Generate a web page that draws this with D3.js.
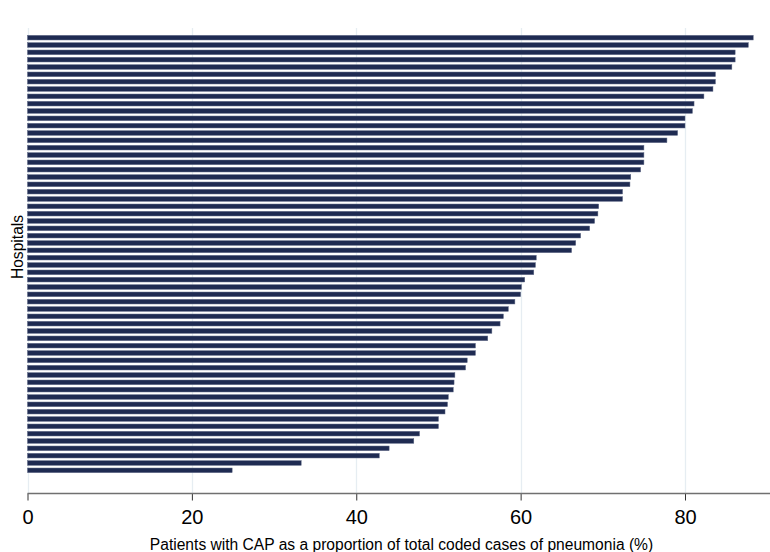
<!DOCTYPE html>
<html>
<head>
<meta charset="utf-8">
<script src="https://cdn.jsdelivr.net/npm/d3@7"></script>
<style>
  html, body { margin: 0; padding: 0; background: #ffffff; }
  svg { display: block; }
</style>
</head>
<body>
<svg id="chart" width="770" height="552"></svg>
<script>
// Share of coded pneumonia cases that were CAP, one bar per hospital (sorted high to low)
const hospitals = d3.range(1, 61).map(i => "H" + i);
const capShare = [
  88.3, 87.7, 86.1, 86.1, 85.7, 83.7, 83.7, 83.4, 82.3, 81.1,
  80.9, 80.0, 80.0, 79.1, 77.8, 75.0, 75.0, 75.0, 74.6, 73.4,
  73.3, 72.4, 72.4, 69.5, 69.4, 69.0, 68.4, 67.3, 66.7, 66.2,
  61.9, 61.8, 61.6, 60.5, 60.1, 60.0, 59.3, 58.5, 57.9, 57.5,
  56.5, 56.0, 54.5, 54.5, 53.5, 53.3, 52.0, 51.9, 51.8, 51.2,
  51.1, 50.8, 50.0, 50.0, 47.7, 47.0, 44.0, 42.8, 33.3, 24.9
];
const xTicks = [0, 20, 40, 60, 80];
const xTitle = "Patients with CAP as a proportion of total coded cases of pneumonia (%)";
const yTitle = "Hospitals";

const svg = d3.select("#chart");
const plotLeft = 27.5, plotRight = 770, plotTop = 28, axisY = 493.5;

const x = d3.scaleLinear().domain([0, 80]).range([plotLeft, 685]);
const y = d3.scaleBand()
  .domain(hospitals)
  .range([34, 474])
  .paddingInner(0.37)
  .paddingOuter(0.185);

// vertical gridlines
svg.append("g")
  .selectAll("line")
  .data(xTicks)
  .join("line")
  .attr("x1", d => Math.round(x(d)) + 0.5)
  .attr("x2", d => Math.round(x(d)) + 0.5)
  .attr("y1", plotTop)
  .attr("y2", axisY)
  .attr("stroke", "#e6edf2")
  .attr("stroke-width", 1.3);

// bars
svg.append("g")
  .selectAll("rect")
  .data(capShare)
  .join("rect")
  .attr("x", x(0))
  .attr("y", (d, i) => y(hospitals[i]))
  .attr("width", d => x(d) - x(0))
  .attr("height", y.bandwidth())
  .attr("fill", "#1f2b52")
  .attr("stroke", "#5d6784")
  .attr("stroke-width", 0.5);

// x axis
const xAxis = svg.append("g")
  .attr("transform", `translate(0,${axisY})`)
  .call(d3.axisBottom(x).tickValues(xTicks).tickSize(7).tickPadding(9).tickFormat(d3.format("d")));
xAxis.select(".domain").remove();
xAxis.append("line")
  .attr("x1", plotLeft).attr("x2", plotRight)
  .attr("y1", 0).attr("y2", 0)
  .attr("stroke", "#707070").attr("stroke-width", 1.5);
xAxis.selectAll(".tick line").attr("stroke", "#333").attr("stroke-width", 1);
xAxis.selectAll(".tick text")
  .attr("fill", "#000")
  .style("font-family", "'Liberation Sans', Arial, sans-serif")
  .style("font-size", "20px");

// axis titles
svg.append("text")
  .attr("x", 401.5)
  .attr("y", 550)
  .attr("text-anchor", "middle")
  .style("font-family", "'Liberation Sans', Arial, sans-serif")
  .style("font-size", "15.6px")
  .attr("fill", "#000")
  .text(xTitle);

svg.append("text")
  .attr("transform", "translate(23,247) rotate(-90)")
  .attr("text-anchor", "middle")
  .style("font-family", "'Liberation Sans', Arial, sans-serif")
  .style("font-size", "15.6px")
  .attr("fill", "#000")
  .text(yTitle);
</script>
</body>
</html>
